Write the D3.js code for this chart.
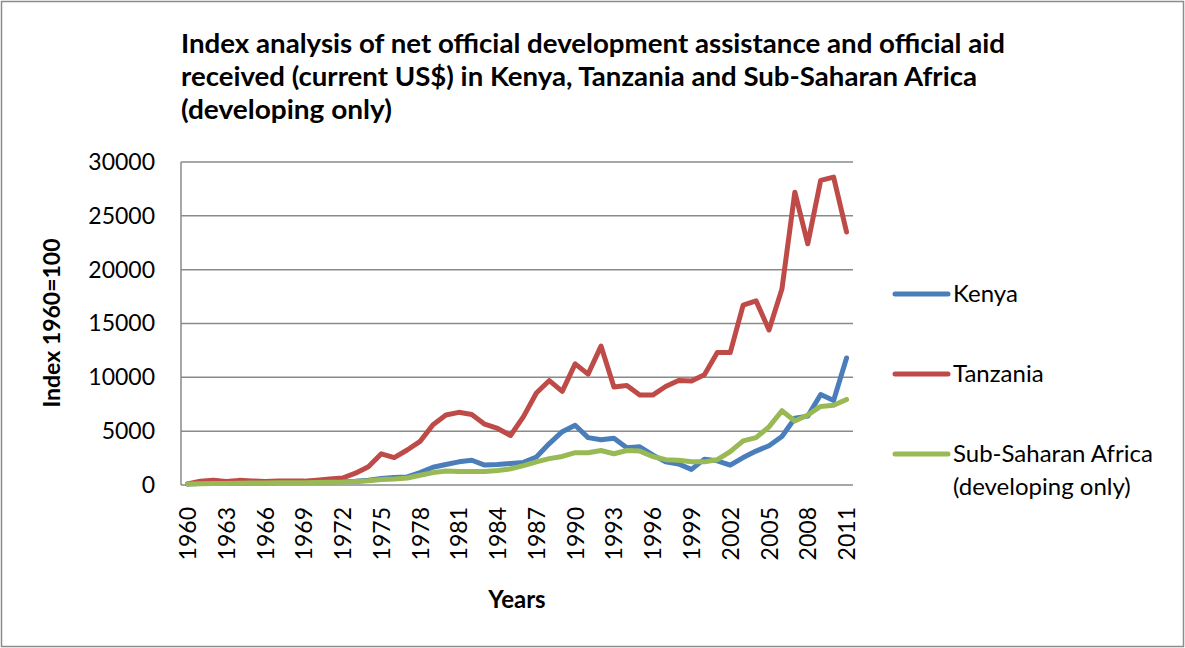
<!DOCTYPE html>
<html>
<head>
<meta charset="utf-8">
<script src="https://cdn.jsdelivr.net/npm/d3@7"></script>
<style>
  html, body { margin: 0; padding: 0; background: #fff; }
  svg { display: block; }
  text { font-family: Lato, "Open Sans", sans-serif; fill: #000; }
</style>
</head>
<body>
<svg id="chart" width="1185" height="648"></svg>
<script>
const years = d3.range(1960, 2012).map(String);
const tickYears = ["1960","1963","1966","1969","1972","1975","1978","1981","1984","1987","1990","1993","1996","1999","2002","2005","2008","2011"];
const yTicks = [0, 5000, 10000, 15000, 20000, 25000, 30000];

const kenya = [100,130,150,170,200,200,220,230,250,250,280,300,320,350,450,600,700,750,1150,1650,1900,2150,2300,1850,1900,2000,2100,2600,3850,4950,5550,4400,4200,4350,3450,3550,2800,2150,1950,1450,2400,2250,1850,2550,3150,3650,4500,6200,6400,8400,7850,11800];
const tanzania = [100,350,450,330,430,380,330,380,380,360,450,550,650,1100,1700,2900,2550,3250,4050,5600,6500,6750,6550,5650,5250,4600,6350,8550,9700,8700,11250,10300,12900,9100,9250,8350,8350,9150,9700,9650,10250,12300,12300,16700,17100,14400,18200,27200,22400,28300,28600,23500];
const ssa = [100,120,140,150,170,180,190,200,210,220,240,260,280,330,400,520,550,650,900,1150,1300,1250,1250,1250,1350,1500,1800,2150,2450,2650,3000,3000,3200,2900,3200,3150,2650,2350,2300,2150,2150,2350,3100,4100,4400,5400,6900,5950,6500,7300,7400,7950];

const seriesNames = ["Kenya", "Tanzania", "Sub-Saharan Africa (developing only)"];
const seriesColors = ["#4A7EBB", "#BE4B48", "#98B954"];
const seriesData = [kenya, tanzania, ssa];

const titleLines = [
  "Index analysis of net official development assistance and official aid",
  "received (current US$) in Kenya, Tanzania and Sub-Saharan Africa",
  "(developing only)"
];
const titleWidths = [824, 796, 211];

const svg = d3.select("#chart");

// outer border
svg.append("rect").attr("x", 1.5).attr("y", 1.5).attr("width", 1182).attr("height", 645)
  .attr("fill", "#fff").attr("stroke", "#8c8c8c").attr("stroke-width", 1.5);

const plot = { left: 181, right: 853, top: 162, bottom: 485 };

const x = d3.scalePoint().domain(years).range([plot.left, plot.right]).padding(0.5);
const y = d3.scaleLinear().domain([0, 30000]).range([plot.bottom, plot.top]);

// gridlines
svg.append("g").selectAll("line").data(yTicks.filter(d => d > 0)).join("line")
  .attr("x1", plot.left).attr("x2", plot.right)
  .attr("y1", d => y(d)).attr("y2", d => y(d))
  .attr("stroke", "#8a8a8a").attr("stroke-width", 1.5);

// axes lines
svg.append("line").attr("x1", plot.left).attr("x2", plot.left).attr("y1", plot.top).attr("y2", plot.bottom)
  .attr("stroke", "#8a8a8a").attr("stroke-width", 1.5);
svg.append("line").attr("x1", plot.left).attr("x2", plot.right).attr("y1", plot.bottom).attr("y2", plot.bottom)
  .attr("stroke", "#8a8a8a").attr("stroke-width", 1.5);

// y axis labels
const yAxis = d3.axisLeft(y).tickValues(yTicks).tickSize(0).tickPadding(26).tickFormat(d3.format("d"));
const gy = svg.append("g").attr("transform", `translate(${plot.left},0)`).call(yAxis);
gy.select(".domain").remove();
gy.selectAll("text").style("font-family", "Lato, 'Open Sans', sans-serif").style("font-size", "23px").attr("fill", "#000");

// x axis labels
const xAxis = d3.axisBottom(x).tickValues(tickYears).tickSize(0);
const gx = svg.append("g").attr("transform", `translate(0,${plot.bottom})`).call(xAxis);
gx.select(".domain").remove();
gx.selectAll("text")
  .style("font-family", "Lato, 'Open Sans', sans-serif").style("font-size", "23px").attr("fill", "#000")
  .attr("transform", "rotate(-90)")
  .attr("x", -22).attr("y", 0).attr("dy", "0.35em")
  .attr("text-anchor", "end");

// lines
const line = d3.line().x((d, i) => x(years[i])).y(d => y(d));
seriesData.forEach((s, k) => {
  svg.append("path").datum(s).attr("d", line)
    .attr("fill", "none").attr("stroke", seriesColors[k]).attr("stroke-width", 5)
    .attr("stroke-linejoin", "round").attr("stroke-linecap", "round");
});

// title
svg.append("g").selectAll("text").data(titleLines).join("text")
  .attr("x", 181).attr("y", (d, i) => 53 + i * 33)
  .attr("font-weight", "bold").attr("font-size", 26)
  .attr("textLength", (d, i) => titleWidths[i]).attr("lengthAdjust", "spacingAndGlyphs")
  .text(d => d);

// y title
svg.append("text").attr("transform", "translate(60,323) rotate(-90)")
  .attr("text-anchor", "middle").attr("font-weight", "bold").attr("font-size", 23)
  .text("Index 1960=100");

// x title
svg.append("text").attr("x", 517).attr("y", 608)
  .attr("text-anchor", "middle").attr("font-weight", "bold").attr("font-size", 24)
  .text("Years");

// legend
const legendY = [294, 374, 454];
const legendText = [["Kenya"], ["Tanzania"], ["Sub-Saharan Africa", "(developing only)"]];
const lg = svg.append("g");
seriesNames.forEach((n, k) => {
  lg.append("line").attr("x1", 895).attr("x2", 948).attr("y1", legendY[k]).attr("y2", legendY[k])
    .attr("stroke", seriesColors[k]).attr("stroke-width", 5).attr("stroke-linecap", "round");
  legendText[k].forEach((t, j) => {
    lg.append("text").attr("x", 953).attr("y", legendY[k] + j * 33).attr("dy", "0.35em")
      .attr("font-size", 24).text(t);
  });
});
</script>
</body>
</html>
